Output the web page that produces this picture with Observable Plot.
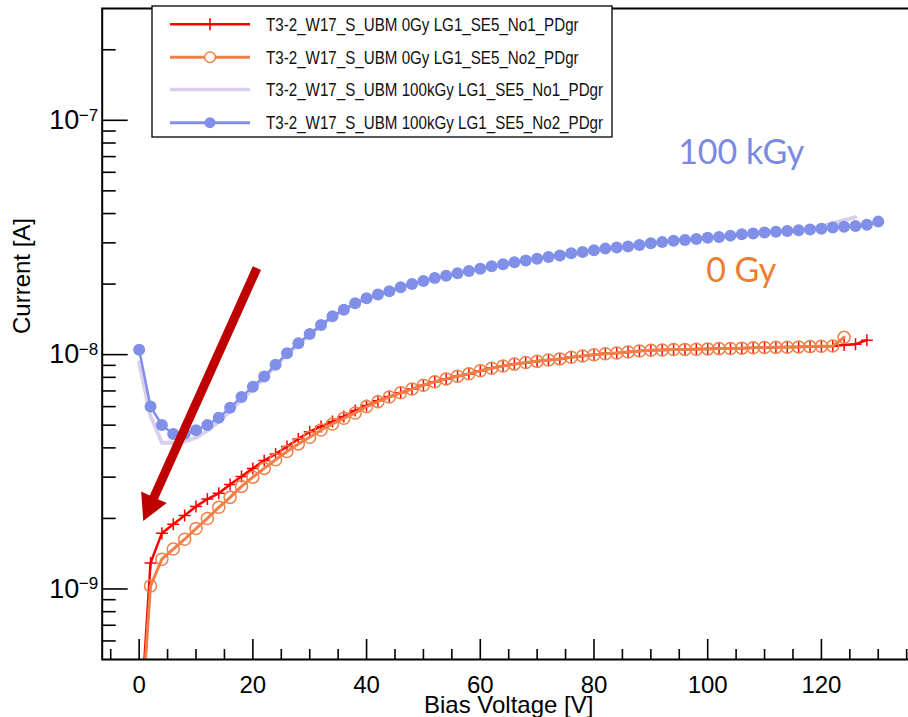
<!DOCTYPE html>
<html><head><meta charset="utf-8">
<script src="https://cdn.jsdelivr.net/npm/d3@7"></script>
<script src="https://cdn.jsdelivr.net/npm/@observablehq/plot@0.6"></script>
<style>
html,body{margin:0;padding:0;background:#fff;overflow:hidden;}
#chart svg{overflow:hidden;display:block;}
</style></head><body><div id="chart"></div>
<script>
// ---- data ----
const seriesNames = [
  "T3-2_W17_S_UBM 0Gy LG1_SE5_No1_PDgr",
  "T3-2_W17_S_UBM 0Gy LG1_SE5_No2_PDgr",
  "T3-2_W17_S_UBM 100kGy LG1_SE5_No1_PDgr",
  "T3-2_W17_S_UBM 100kGy LG1_SE5_No2_PDgr"
];
const voltage = [0,2,4,6,8,10,12,14,16,18,20,22,24,26,28,30,32,34,36,38,40,42,44,46,48,50,52,54,56,58,60,62,64,66,68,70,72,74,76,78,80,82,84,86,88,90,92,94,96,98,100,102,104,106,108,110,112,114,116,118,120,122,124,126,128,130];
const current0GyNo1 = [2.2e-10,1.29e-9,1.73e-9,1.89e-9,2.06e-9,2.25e-9,2.42e-9,2.56e-9,2.79e-9,3.02e-9,3.27e-9,3.53e-9,3.77e-9,4.05e-9,4.37e-9,4.69e-9,4.94e-9,5.18e-9,5.44e-9,5.77e-9,6.06e-9,6.36e-9,6.62e-9,6.88e-9,7.14e-9,7.41e-9,7.67e-9,7.88e-9,8.08e-9,8.27e-9,8.54e-9,8.76e-9,8.95e-9,9.11e-9,9.24e-9,9.36e-9,9.49e-9,9.58e-9,9.74e-9,9.87e-9,1.000e-8,1.010e-8,1.017e-8,1.027e-8,1.037e-8,1.043e-8,1.047e-8,1.050e-8,1.053e-8,1.056e-8,1.058e-8,1.061e-8,1.064e-8,1.066e-8,1.069e-8,1.071e-8,1.074e-8,1.077e-8,1.079e-8,1.082e-8,1.085e-8,1.089e-8,1.098e-8,1.108e-8,1.153e-8];
const current0GyNo2 = [2.0e-10,1.03e-9,1.34e-9,1.48e-9,1.63e-9,1.81e-9,2.00e-9,2.23e-9,2.46e-9,2.74e-9,3.00e-9,3.27e-9,3.56e-9,3.86e-9,4.16e-9,4.44e-9,4.77e-9,5.06e-9,5.35e-9,5.64e-9,6.00e-9,6.30e-9,6.60e-9,6.87e-9,7.13e-9,7.40e-9,7.66e-9,7.88e-9,8.08e-9,8.28e-9,8.53e-9,8.75e-9,8.94e-9,9.11e-9,9.25e-9,9.36e-9,9.48e-9,9.59e-9,9.74e-9,9.87e-9,9.99e-9,1.009e-8,1.017e-8,1.026e-8,1.036e-8,1.043e-8,1.047e-8,1.051e-8,1.053e-8,1.055e-8,1.058e-8,1.061e-8,1.063e-8,1.066e-8,1.069e-8,1.072e-8,1.074e-8,1.076e-8,1.079e-8,1.082e-8,1.085e-8,1.088e-8,1.185e-8];
const current100kGyNo1 = [9.27e-9,5.49e-9,4.21e-9,4.21e-9,4.25e-9,4.42e-9,4.74e-9,5.18e-9,5.75e-9,6.45e-9,7.15e-9,7.95e-9,8.95e-9,1.000e-8,1.105e-8,1.215e-8,1.330e-8,1.450e-8,1.550e-8,1.650e-8,1.735e-8,1.800e-8,1.865e-8,1.935e-8,2.000e-8,2.060e-8,2.120e-8,2.170e-8,2.225e-8,2.275e-8,2.330e-8,2.380e-8,2.430e-8,2.480e-8,2.525e-8,2.570e-8,2.615e-8,2.655e-8,2.700e-8,2.745e-8,2.790e-8,2.830e-8,2.870e-8,2.900e-8,2.940e-8,2.985e-8,3.020e-8,3.060e-8,3.085e-8,3.115e-8,3.150e-8,3.180e-8,3.220e-8,3.260e-8,3.290e-8,3.320e-8,3.345e-8,3.375e-8,3.400e-8,3.440e-8,3.520e-8,3.640e-8,3.750e-8,3.860e-8];
const current100kGyNo2 = [1.05e-8,6.00e-9,5.01e-9,4.58e-9,4.60e-9,4.76e-9,5.01e-9,5.38e-9,5.94e-9,6.60e-9,7.30e-9,8.07e-9,9.05e-9,1.013e-8,1.117e-8,1.226e-8,1.339e-8,1.457e-8,1.556e-8,1.656e-8,1.739e-8,1.804e-8,1.866e-8,1.938e-8,2.003e-8,2.063e-8,2.125e-8,2.169e-8,2.223e-8,2.276e-8,2.328e-8,2.381e-8,2.428e-8,2.476e-8,2.523e-8,2.568e-8,2.612e-8,2.650e-8,2.705e-8,2.743e-8,2.787e-8,2.834e-8,2.867e-8,2.896e-8,2.939e-8,2.985e-8,3.021e-8,3.060e-8,3.081e-8,3.112e-8,3.151e-8,3.179e-8,3.220e-8,3.261e-8,3.290e-8,3.322e-8,3.342e-8,3.373e-8,3.392e-8,3.423e-8,3.443e-8,3.491e-8,3.511e-8,3.540e-8,3.581e-8,3.695e-8];

const xMajorTicks = [0,20,40,60,80,100,120];
const xMinorTicks = [-5,5,10,15,25,30,35,45,50,55,65,70,75,85,90,95,105,110,115,125,130,135];
const yMajorTicks = [1e-9,1e-8,1e-7];
const yMajorExponents = ["\u22129","\u22128","\u22127"];
const yMinorTicks = [6e-10,7e-10,8e-10,9e-10,2e-9,3e-9,4e-9,5e-9,6e-9,7e-9,8e-9,9e-9,2e-8,3e-8,4e-8,5e-8,6e-8,7e-8,8e-8,9e-8,2e-7];

const annotations = [
  {v: 105.9, i: 7.28e-8, text: "100 kGy"},
  {v: 105.9, i: 2.28e-8, text: "0 Gy"}
];
const arrowFrom = [20.8, 2.33e-8];
const arrowTo = [0.81, 1.94e-9];

// ---- styles ----
const colors = ["#ff0000", "#f08048", "#d9cfec", "#8090e8"];
const annColors = ["#7c89e3", "#ed7d31"];
const font = "'Liberation Sans', Arial, Helvetica, sans-serif";

const rows = (vals) => vals.map((c, k) => ({v: voltage[k], i: c}));
const red = rows(current0GyNo1), orange = rows(current0GyNo2), purple = rows(current100kGyNo1), blue = rows(current100kGyNo2);

const plusSymbol = {draw(ctx, size) { const r = Math.sqrt(size / Math.PI); ctx.moveTo(-r, 0); ctx.lineTo(r, 0); ctx.moveTo(0, -r); ctx.lineTo(0, r); }};

function arrowMark(index, scales) {
  const x = scales.x, y = scales.y;
  const x0 = x(arrowFrom[0]), y0 = y(arrowFrom[1]);
  const x1 = x(arrowTo[0]), y1 = y(arrowTo[1]);
  const dx = x1 - x0, dy = y1 - y0, len = Math.hypot(dx, dy);
  const ux = dx / len, uy = dy / len, px = -uy, py = ux;
  const headL = 26, headW = 28, shaftW = 9;
  const bx = x1 - ux * headL, by = y1 - uy * headL;
  const pts = [
    [x0 + px * shaftW / 2, y0 + py * shaftW / 2],
    [bx + px * shaftW / 2, by + py * shaftW / 2],
    [bx + px * headW / 2, by + py * headW / 2],
    [x1, y1],
    [bx - px * headW / 2, by - py * headW / 2],
    [bx - px * shaftW / 2, by - py * shaftW / 2],
    [x0 - px * shaftW / 2, y0 - py * shaftW / 2]
  ];
  const g = d3.create("svg:g");
  g.append("path").attr("d", "M" + pts.map(p => p.map(n => n.toFixed(2)).join(",")).join("L") + "Z").attr("fill", "#c00000");
  return g.node();
}

function legendMark() {
  const g = d3.create("svg:g");
  g.append("rect").attr("x", 152).attr("y", 6).attr("width", 460).attr("height", 131)
    .attr("fill", "white").attr("stroke", "black").attr("stroke-width", 1.3);
  const rowY = [24.3, 57.3, 89.5, 122.7];
  const widths = [2.6, 3, 3.5, 3];
  seriesNames.forEach((name, k) => {
    const yy = rowY[k];
    g.append("line").attr("x1", 170).attr("x2", 250).attr("y1", yy).attr("y2", yy)
      .attr("stroke", colors[k]).attr("stroke-width", widths[k]);
    if (k === 0) {
      g.append("path").attr("d", `M210,${yy-6}V${yy+6}M204,${yy}H216`).attr("stroke", colors[0]).attr("stroke-width", 1.6).attr("fill", "none");
    } else if (k === 1) {
      g.append("circle").attr("cx", 210).attr("cy", yy).attr("r", 5.3).attr("fill", "white").attr("stroke", colors[1]).attr("stroke-width", 1.5);
    } else if (k === 3) {
      g.append("circle").attr("cx", 210).attr("cy", yy).attr("r", 5.5).attr("fill", colors[3]);
    }
    g.append("text").attr("transform", `translate(266,${yy + 6.6}) scale(0.82,1)`)
      .attr("text-anchor", "start")
      .attr("font-family", font).attr("font-size", 18.5).attr("fill", "#111").text(name);
  });
  return g.node();
}

const chart = Plot.plot({
  width: 908, height: 717,
  marginLeft: 101.7, marginRight: -6.7, marginTop: 8, marginBottom: 58,
  style: {background: "white", fontFamily: font, color: "black", overflow: "hidden"},
  x: {type: "linear", domain: [-6.5, 136.5], range: [101.7, 914.7], axis: null},
  y: {type: "log", domain: [5e-10, 3e-7], axis: null},
  marks: [
    // data
    Plot.line(red, {x: "v", y: "i", stroke: colors[0], strokeWidth: 2.5, clip: true}),
    Plot.dot(red, {x: "v", y: "i", symbol: plusSymbol, r: 6, stroke: colors[0], fill: "none", strokeWidth: 1.5, clip: true}),
    Plot.line(orange, {x: "v", y: "i", stroke: colors[1], strokeWidth: 3, clip: true}),
    Plot.dot(orange, {x: "v", y: "i", r: 6, stroke: colors[1], fill: "none", strokeWidth: 1.5, clip: true}),
    Plot.line(purple, {x: "v", y: "i", stroke: colors[2], strokeWidth: 4, clip: true}),
    Plot.line(blue, {x: "v", y: "i", stroke: colors[3], strokeWidth: 2.5, clip: true}),
    Plot.dot(blue, {x: "v", y: "i", r: 6, fill: colors[3], stroke: "none", clip: true}),
    // axes (ROOT style, ticks inside the frame)
    Plot.axisX({anchor: "bottom", ticks: xMajorTicks, tickSize: 20, dy: -20, tickFormat: () => "", label: null, strokeWidth: 1.6}),
    Plot.axisX({anchor: "bottom", ticks: xMinorTicks, tickSize: 10, dy: -10, tickFormat: () => "", label: null, strokeWidth: 1.6}),
    Plot.axisY({anchor: "left", ticks: yMajorTicks, tickSize: 26, dx: 26, tickFormat: () => "", label: null, strokeWidth: 1.6}),
    Plot.axisY({anchor: "left", ticks: yMinorTicks, tickSize: 14, dx: 14, tickFormat: () => "", label: null, strokeWidth: 1.6}),
    Plot.frame({stroke: "black", strokeWidth: 2}),
    Plot.text(xMajorTicks, {x: d => d, frameAnchor: "bottom", dy: 16, lineAnchor: "top", text: d => String(d), fontSize: 24, fill: "black"}),
    Plot.text(yMajorTicks, {y: d => d, frameAnchor: "left", dx: -23, textAnchor: "end", text: () => "10", fontSize: 27, fill: "black"}),
    Plot.text(yMajorTicks, {y: d => d, frameAnchor: "left", dx: -4, dy: -5, textAnchor: "end", text: (d, k) => yMajorExponents[k], fontSize: 17, fill: "black"}),
    Plot.text(["Bias Voltage [V]"], {frameAnchor: "bottom", dy: 53, lineAnchor: "bottom", fontSize: 24, fill: "black"}),
    Plot.text(["Current [A]"], {frameAnchor: "left", dx: -80, rotate: -90, fontSize: 24, fill: "black"}),
    // annotations
    Plot.text(annotations, {x: "v", y: "i", text: "text", fill: (d, k) => annColors[k], fontSize: 34, fontFamily: "Lato, 'Open Sans', sans-serif"}),
    arrowMark,
    legendMark
  ]
});
document.getElementById("chart").append(chart);
</script></body></html>
